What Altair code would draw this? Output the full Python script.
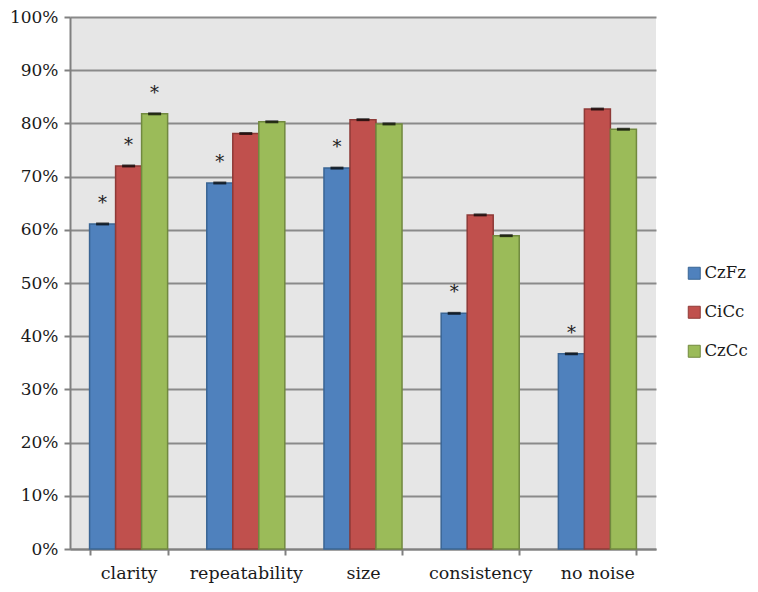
import altair as alt
import pandas as pd

categories = ["clarity", "repeatability", "size", "consistency", "no noise"]
series = ["CzFz", "CiCc", "CzCc"]
czfz = [0.611, 0.688, 0.716, 0.443, 0.367]
cicc = [0.720, 0.781, 0.807, 0.628, 0.827]
czcc = [0.818, 0.803, 0.799, 0.589, 0.789]
# significance markers (asterisks)
star_czfz = [True, True, True, True, True]
star_cicc = [True, False, False, False, False]
star_czcc = [True, False, False, False, False]

rows = []
for s, vals, stars in zip(series, [czfz, cicc, czcc], [star_czfz, star_cicc, star_czcc]):
    for c, v, st in zip(categories, vals, stars):
        rows.append({"category": c, "series": s, "value": v, "star": "*" if st else ""})
df = pd.DataFrame(rows)

fills = ["#4F81BD", "#C0504D", "#9BBB59"]
strokes = ["#3A6594", "#8E3A37", "#71893F"]
FONT = "DejaVu Serif"

x = alt.X("category:N", sort=categories, title=None,
          scale=alt.Scale(paddingInner=0.334, paddingOuter=0.167),
          axis=alt.Axis(labelAngle=0, tickBand="extent", labelFont=FONT, labelFontSize=17.5,
                        labelColor="#1a1a1a", labelPadding=9, tickSize=6, tickColor="#808080",
                        tickWidth=2, domainColor="#808080", domainWidth=2, grid=False))
xo = alt.XOffset("series:N", sort=series)
y = alt.Y("value:Q", title=None,
          scale=alt.Scale(domain=[0, 1], nice=False),
          axis=alt.Axis(values=[i / 10 for i in range(11)], format=".0%", labelFont=FONT,
                        labelFontSize=17, labelColor="#1a1a1a", labelPadding=6, tickSize=6,
                        tickColor="#808080", tickWidth=2, domainColor="#808080", domainWidth=2,
                        grid=True, gridColor="#8a8a8a", gridWidth=2))

bars = alt.Chart(df).mark_bar(strokeWidth=1.5).encode(
    x=x, xOffset=xo, y=y,
    color=alt.Color("series:N", sort=series, scale=alt.Scale(domain=series, range=fills),
                    legend=alt.Legend(title=None, orient="none", legendX=616, legendY=248,
                                      symbolType="square", symbolSize=144,
                                      symbolStrokeColor="#555555", symbolStrokeWidth=1,
                                      labelFont=FONT, labelFontSize=16.5, labelColor="#1a1a1a",
                                      rowPadding=22, labelOffset=2)),
    stroke=alt.Stroke("series:N", sort=series, scale=alt.Scale(domain=series, range=strokes),
                      legend=None),
)

caps = alt.Chart(df).mark_tick(color="black", thickness=3, size=13).encode(
    x=x, xOffset=xo, y="value:Q")

stars = alt.Chart(df).mark_text(font=FONT, fontSize=18, color="#222222", baseline="alphabetic",
                                dy=-15).encode(
    x=x, xOffset=xo, y="value:Q", text="star:N")

chart = alt.layer(bars, caps, stars).properties(
    width=586, height=532,
    autosize=alt.AutoSizeParams(type="none"),
    padding={"left": 62, "top": 9, "right": 94, "bottom": 35},
    background="white",
).configure_view(fill="#E6E6E6", stroke=None)

chart.save("out.html", embed_options={"renderer": "svg", "actions": False})
